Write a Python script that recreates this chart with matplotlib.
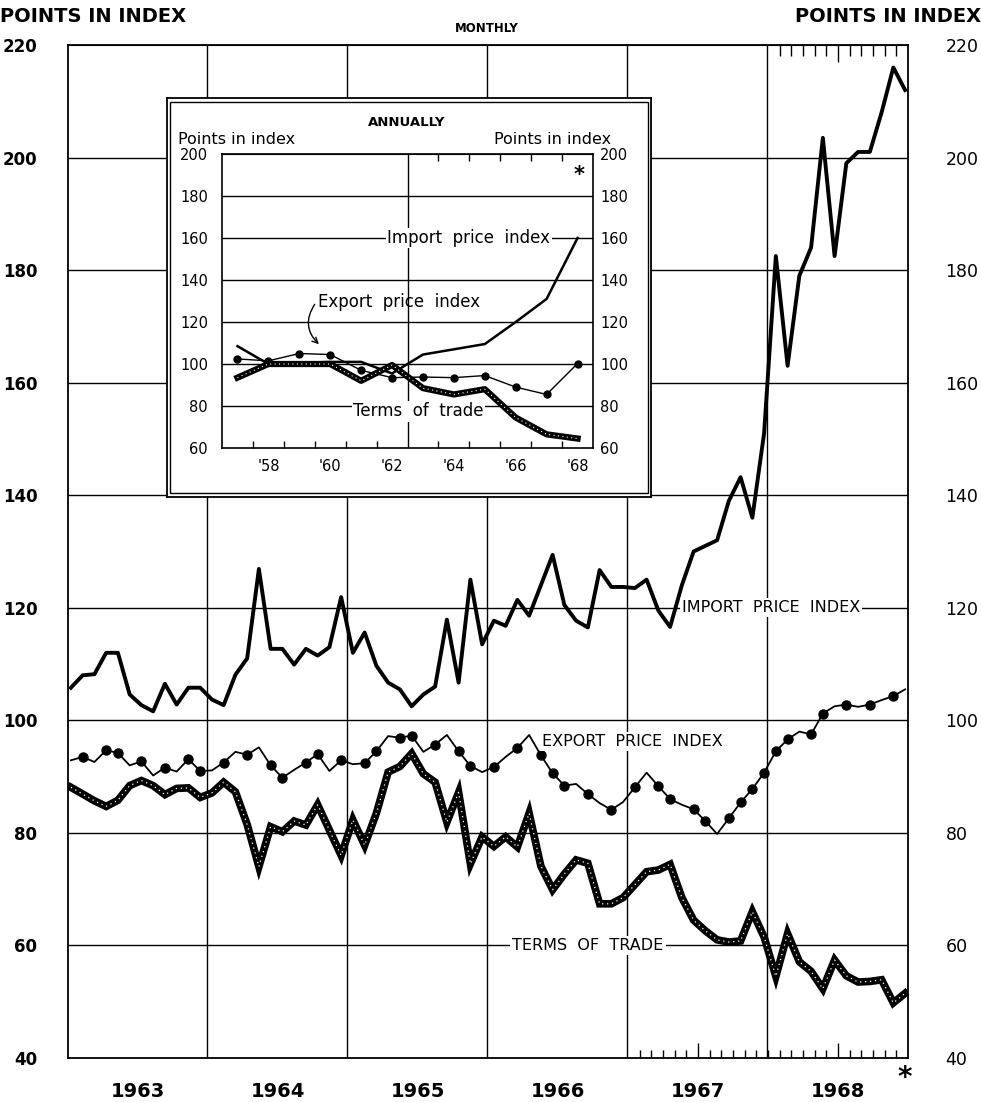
import numpy as np
import matplotlib.pyplot as plt

# -- monthly data, Jan 1963 .. Dec 1968
years = ['1963', '1964', '1965', '1966', '1967', '1968']
import_monthly = [
    105.8, 108.0, 108.2, 112.0, 112.0, 104.6, 102.7, 101.6, 106.5, 102.8, 105.8, 105.8,
    103.7, 102.7, 108.1, 111.0, 126.9, 112.7, 112.7, 109.9, 112.7, 111.5, 113.0, 121.9,
    112.0, 115.6, 109.7, 106.7, 105.5, 102.5, 104.6, 106.0, 117.9, 106.7, 125.0, 113.5,
    117.7, 116.8, 121.4, 118.6, 124.0, 129.4, 120.5, 117.7, 116.5, 126.7, 123.7, 123.7,
    123.5, 125.0, 119.5, 116.6, 124.0, 130.0, 131.0, 132.0, 139.0, 143.2, 136.0, 151.0,
    182.5, 163.0, 179.0, 184.0, 203.5, 182.5, 199.0, 201.0, 201.0, 208.0, 216.0, 212.0,
]
export_monthly = [
    92.9, 93.5, 92.6, 94.7, 94.2, 92.0, 92.7, 90.2, 91.6, 90.9, 93.1, 91.0,
    91.1, 92.5, 94.4, 93.9, 95.2, 92.0, 89.8, 91.2, 92.5, 94.0, 91.0, 92.9,
    92.2, 92.4, 94.5, 97.2, 96.9, 97.3, 94.4, 95.7, 97.4, 94.5, 91.9, 90.8,
    91.7, 93.5, 95.1, 97.4, 93.8, 90.6, 88.4, 88.7, 86.9, 85.3, 84.1, 85.5,
    88.1, 90.7, 88.3, 86.0, 85.0, 84.2, 82.1, 79.8, 82.6, 85.4, 87.8, 90.7,
    94.5, 96.6, 98.0, 97.5, 101.2, 102.5, 102.8, 102.4, 102.8, 103.6, 104.3, 105.5,
]
terms_monthly = [
    88.1, 86.9, 85.7, 84.7, 85.8, 88.4, 89.3, 88.4, 86.8, 87.9, 88.0, 86.3,
    87.1, 89.0, 87.3, 81.5, 74.0, 81.1, 80.2, 82.1, 81.4, 85.0, 80.5, 76.0,
    82.3, 77.8, 83.5, 90.8, 91.8, 94.1, 90.5, 89.0, 81.9, 87.2, 74.5, 79.3,
    77.6, 79.3, 77.5, 83.5, 74.1, 69.9, 72.7, 75.2, 74.6, 67.4, 67.4, 68.5,
    70.8, 73.1, 73.4, 74.4, 68.5, 64.5, 62.6, 61.0, 60.6, 60.8, 66.0, 61.5,
    54.5, 62.1, 57.1, 55.4, 52.3, 57.4, 54.6, 53.5, 53.6, 53.9, 49.8, 51.5,
]
# months that carry a dot on the export line
export_dots = [1, 3, 4, 6, 8, 10, 11, 13, 15, 17, 18, 20, 21, 23, 25, 26, 28, 29,
               31, 33, 34, 36, 38, 40, 41, 42, 44, 46, 48, 50, 51, 53, 54, 56, 57,
               58, 59, 60, 61, 63, 64, 66, 68, 70]

# -- annual data (inset)
years_annual = np.arange(1957, 1969)
import_annual = [108.5, 100.0, 100.5, 101.0, 101.0, 95.5, 104.5, 107.0, 109.5, 120.0, 131.0, 160.0]
export_annual = [102.4, 101.5, 105.0, 104.5, 97.0, 93.5, 93.8, 93.5, 94.5, 89.0, 85.5, 100.2]
terms_annual = [93.5, 100.0, 100.0, 100.0, 92.0, 99.5, 88.5, 85.5, 88.0, 74.5, 66.5, 64.5]

W, H = 981, 1102
plt.rcParams['font.family'] = 'DejaVu Sans'
fig = plt.figure(figsize=(W / 100, H / 100), dpi=100)

def fx(px):
    return px / W

def fy(py):
    return 1 - py / H

#-- main monthly chart
ax = fig.add_axes([fx(68), fy(1058), fx(840), 1013 / H])
ax.set_xlim(0, 72)
ax.set_ylim(40, 220)
x = 0.25 + np.arange(len(import_monthly)) * 71.5 / 71

for v in range(60, 201, 20):
    ax.axhline(v, color='black', lw=1.0, zorder=1)
for k in range(1, 6):
    ax.axvline(12 * k - 0.1, color='black', lw=1.0, zorder=1)

ax.plot(x, import_monthly, color='black', lw=2.8, zorder=3)
ax.plot(x, export_monthly, color='black', lw=1.3, zorder=3)
xd = x[export_dots]
yd = np.array(export_monthly)[export_dots]
ax.plot(xd, yd, 'o', color='black', ms=6.5, zorder=4)
ax.plot(x, terms_monthly, color='black', lw=5.5, zorder=3, solid_joinstyle='miter')
ax.plot(x, terms_monthly, color='white', lw=0.9, ls=(0, (1, 3)), zorder=4)

for s in ax.spines.values():
    s.set_linewidth(1.3)

ax.set_yticks(range(40, 221, 20))
ax.tick_params(axis='y', length=0, labelsize=12, pad=22)
for lab in ax.get_yticklabels():
    lab.set_fontweight('bold')
axr = ax.twinx()
axr.set_ylim(40, 220)
axr.set_yticks(range(40, 221, 20))
axr.tick_params(axis='y', length=0, labelsize=12.5, pad=27)
axr.spines[:].set_visible(False)

ax.set_xticks(np.arange(6) * 12 + 6, labels=years)
ax.tick_params(axis='x', which='major', length=0, pad=17, labelsize=14)
for lab in ax.get_xticklabels():
    lab.set_fontweight('bold')

#-- month ticks, 1967 and 1968
ax.xaxis.remove_overlapping_locs = False
ax.set_xticks(np.arange(49, 72), minor=True)
ax.tick_params(axis='x', which='minor', direction='in', length=6, width=1.0)
for loc, t in zip(np.arange(49, 72), ax.xaxis.get_minor_ticks()):
    if loc in (54, 66):
        t.tick1line.set_markersize(11)
top = ax.secondary_xaxis('top')
top.set_xticks(np.arange(61, 72))
top.tick_params(direction='in', length=8, width=1.0, labeltop=False)
for loc, t in zip(np.arange(61, 72), top.xaxis.get_major_ticks()):
    if loc == 66:
        t.tick1line.set_markersize(12)
        t.tick2line.set_markersize(12)

box = dict(facecolor='white', edgecolor='none', pad=1.5)
ax.text(52.6, 120, 'IMPORT  PRICE  INDEX', fontsize=11.5, va='center', ha='left', bbox=box, zorder=6)
ax.text(40.6, 96.3, 'EXPORT  PRICE  INDEX', fontsize=11.5, va='center', ha='left', bbox=box, zorder=6)
ax.text(38.1, 60, 'TERMS  OF  TRADE', fontsize=11.5, va='center', ha='left', bbox=box, zorder=6)

fig.text(fx(0), fy(16), 'POINTS IN INDEX', fontsize=14, fontweight='bold', va='center', ha='left')
fig.text(fx(981), fy(16), 'POINTS IN INDEX', fontsize=14, fontweight='bold', va='center', ha='right')
fig.text(fx(487), fy(29), 'MONTHLY', fontsize=8.5, fontweight='bold', va='center', ha='center')
fig.text(fx(905), fy(1078), '*', fontsize=20, fontweight='bold', va='center', ha='center')

#-- inset frame (double line)
frame = fig.add_axes([fx(167), fy(497), fx(484), 399 / H])
frame.set_xticks([])
frame.set_yticks([])
frame.set_facecolor('white')
frame.set_zorder(5)
for s in frame.spines.values():
    s.set_linewidth(1.3)
frame.add_patch(plt.Rectangle((0.007, 0.009), 0.986, 0.982, transform=frame.transAxes,
                              fill=False, lw=1.0, color='black'))

#-- inset annual chart
ins = fig.add_axes([fx(222), fy(448), fx(371), 294 / H])
ins.set_zorder(6)
ins.set_facecolor('none')
ins.set_xlim(1957, 1969)
ins.set_ylim(60, 200)
for v in range(80, 181, 20):
    ins.axhline(v, color='black', lw=1.0, zorder=1)
ins.axvline(1963, color='black', lw=1.0, zorder=1)

xa = years_annual + 0.5
ins.plot(xa, import_annual, color='black', lw=1.8, zorder=3)
ins.plot(xa, export_annual, color='black', lw=1.0, zorder=3)
ins.plot(xa, export_annual, 'o', color='black', ms=5, zorder=4)
ins.plot(xa, terms_annual, color='black', lw=4.5, zorder=3)
ins.plot(xa, terms_annual, color='white', lw=0.8, ls=(0, (1, 3)), zorder=4)

for s in ins.spines.values():
    s.set_linewidth(1.2)
ins.set_yticks(range(60, 201, 20))
ins.tick_params(axis='y', length=0, labelsize=10.5, pad=10)
insr = ins.twinx()
insr.set_zorder(6)
insr.set_ylim(60, 200)
insr.set_yticks(range(60, 201, 20))
insr.tick_params(axis='y', length=0, labelsize=10.5, pad=5)
insr.spines[:].set_visible(False)

ins.set_xticks(np.arange(1958, 1969, 2) + 0.5,
               labels=["'58", "'60", "'62", "'64", "'66", "'68"])
ins.tick_params(axis='x', which='major', length=0, pad=8, labelsize=10.5)
ins.set_xticks([1958, 1959, 1960, 1961, 1962, 1964, 1965, 1966, 1967, 1968], minor=True)
ins.tick_params(axis='x', which='minor', direction='in', length=5, width=1.0)
itop = ins.secondary_xaxis('top')
itop.set_xticks([1964, 1965, 1966, 1967, 1968])
itop.tick_params(direction='in', length=5, width=1.0, labeltop=False)

ibox = dict(facecolor='white', edgecolor='none', pad=1.0)
ins.text(1962.35, 160, 'Import  price  index', fontsize=12, va='center', ha='left', bbox=ibox, zorder=5)
ins.text(1960.1, 129.5, 'Export  price  index', fontsize=12, va='center', ha='left', zorder=5)
ins.text(1961.25, 77.5, 'Terms  of  trade', fontsize=12, va='center', ha='left', bbox=ibox, zorder=5)
ins.annotate('', xy=(1960.2, 108.5), xytext=(1960.05, 129.5),
             arrowprops=dict(arrowstyle='->', lw=1.0, color='black',
                             connectionstyle='arc3,rad=0.45'))
ins.text(1968.55, 190, '*', fontsize=15, fontweight='bold', va='center', ha='center')

fig.text(fx(407), fy(122), 'ANNUALLY', fontsize=9.5, fontweight='bold', va='center', ha='center', zorder=7)
fig.text(fx(178), fy(140), 'Points in index', fontsize=11.5, va='center', ha='left', zorder=7)
fig.text(fx(611), fy(140), 'Points in index', fontsize=11.5, va='center', ha='right', zorder=7)

fig.savefig('out.png', dpi=100)
